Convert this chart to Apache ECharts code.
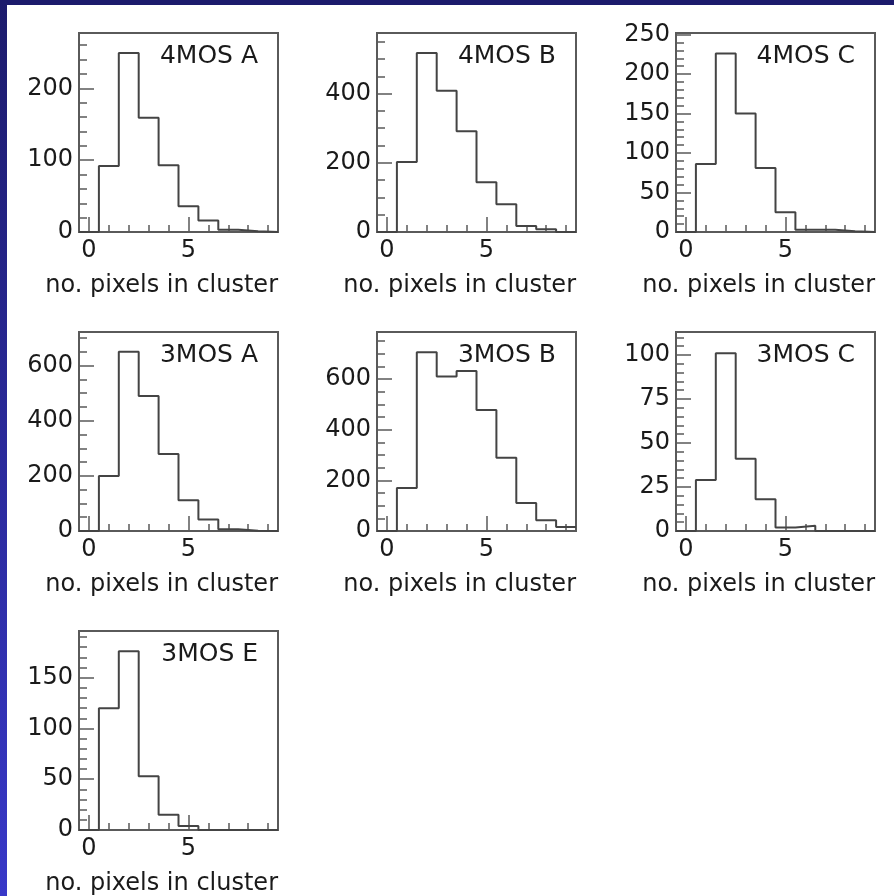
<!DOCTYPE html>
<html><head><meta charset="utf-8">
<script src="https://cdn.jsdelivr.net/npm/echarts@6/dist/echarts.min.js"></script>
<style>html,body{margin:0;padding:0;background:#fff;}#c{width:894px;height:896px;}</style>
</head><body><div id="c"></div><script>
// ---- data ----
const binCenters = [0, 1, 2, 3, 4, 5, 6, 7, 8, 9];
const binWidth = 1;
const panelNames = ['4MOS A', '4MOS B', '4MOS C', '3MOS A', '3MOS B', '3MOS C', '3MOS E'];
const counts4MOSA = [0, 92, 249, 159, 93, 36, 16, 3, 1, 0];
const counts4MOSB = [0, 202, 517, 408, 291, 144, 80, 17, 8, 0];
const counts4MOSC = [0, 86, 226, 150, 81, 25, 3, 3, 1, 0];
const counts3MOSA = [0, 200, 650, 490, 279, 112, 42, 6, 1, 0];
const counts3MOSB = [0, 170, 706, 610, 632, 478, 289, 111, 42, 16];
const counts3MOSC = [0, 29, 101, 41, 18, 2, 3, 0, 0, 0];
const counts3MOSE = [0, 120, 176, 53, 15, 4, 0, 0, 0, 0];
const yMaxes = [277, 575, 252, 722, 786, 113, 196];
const yMajorTicks = [
  [0, 100, 200],
  [0, 200, 400],
  [0, 50, 100, 150, 200, 250],
  [0, 200, 400, 600],
  [0, 200, 400, 600],
  [0, 25, 50, 75, 100],
  [0, 50, 100, 150]
];
const yMinorSteps = [20, 50, 10, 50, 50, 5, 10];
const xRange = [-0.5, 9.5];
const xMajorTicks = [0, 5];
const xMinorTicks = [1, 2, 3, 4, 6, 7, 8, 9];
const xTitle = 'no. pixels in cluster';

const allCounts = [counts4MOSA, counts4MOSB, counts4MOSC, counts3MOSA, counts3MOSB, counts3MOSC, counts3MOSE];

// ---- layout ----
const colLeft = [79, 377, 676];
const rowTop = [33, 332, 631];
const W = 199, H = 199;
const FONT = 'DejaVu Sans';
const TXT = '#1a1a1a';
const FRAME = '#5a5a5a';
const HIST = '#444444';

const grids = [], xAxes = [], yAxes = [], series = [], titles = [];
allCounts.forEach(function (counts, p) {
  const left = colLeft[p % 3], top = rowTop[Math.floor(p / 3)];
  grids.push({left: left, top: top, width: W, height: H, show: true,
    borderColor: FRAME, borderWidth: 2, backgroundColor: 'transparent', containLabel: false, outerBoundsMode: 'none'});
  // major x axis
  xAxes.push({type: 'value', gridIndex: p, min: xRange[0], max: xRange[1], position: 'bottom',
    axisLine: {show: false, onZero: false}, splitLine: {show: false},
    axisTick: {show: true, inside: true, length: 15, customValues: xMajorTicks, lineStyle: {color: FRAME, width: 1.5}},
    axisLabel: {show: true, customValues: xMajorTicks, margin: 7, fontFamily: FONT, fontSize: 24, color: TXT},
    name: xTitle, nameLocation: 'end', nameGap: 0,
    nameTextStyle: {fontFamily: FONT, fontSize: 24, color: TXT, align: 'right', verticalAlign: 'top', padding: [42, 0, 0, 0]}
  });
  // minor x axis
  xAxes.push({type: 'value', gridIndex: p, min: xRange[0], max: xRange[1], position: 'bottom',
    axisLine: {show: false, onZero: false}, splitLine: {show: false}, axisLabel: {show: false},
    axisTick: {show: true, inside: true, length: 7, customValues: xMinorTicks, lineStyle: {color: FRAME, width: 1.5}}
  });
  const ymax = yMaxes[p];
  const minor = [];
  for (let v = 0; v < ymax; v += yMinorSteps[p]) {
    if (yMajorTicks[p].indexOf(v) < 0) minor.push(v);
  }
  yAxes.push({type: 'value', gridIndex: p, min: 0, max: ymax, position: 'left',
    axisLine: {show: false, onZero: false}, splitLine: {show: false},
    axisTick: {show: true, inside: true, length: 15, customValues: yMajorTicks[p], lineStyle: {color: FRAME, width: 1.5}},
    axisLabel: {show: true, customValues: yMajorTicks[p], margin: 6, fontFamily: FONT, fontSize: 24, color: TXT}
  });
  yAxes.push({type: 'value', gridIndex: p, min: 0, max: ymax, position: 'left',
    axisLine: {show: false, onZero: false}, splitLine: {show: false}, axisLabel: {show: false},
    axisTick: {show: true, inside: true, length: 8, customValues: minor, lineStyle: {color: FRAME, width: 1.5}}
  });
  const pts = [];
  binCenters.forEach(function (c, i) {
    pts.push([c - binWidth / 2, counts[i]]);
    pts.push([c + binWidth / 2, counts[i]]);
  });
  series.push({type: 'line', xAxisIndex: 2 * p, yAxisIndex: 2 * p, data: pts,
    showSymbol: false, symbol: 'none', animation: false, silent: true,
    lineStyle: {color: HIST, width: 2}, z: 3});
  titles.push({text: panelNames[p], right: 894 - (left + W - 20), top: top + 11, padding: 0,
    textStyle: {fontFamily: FONT, fontSize: 25, fontWeight: 'normal', color: TXT}});
});

const chart = echarts.init(document.getElementById('c'), null, {renderer: 'canvas'});
chart.setOption({
  backgroundColor: '#ffffff',
  animation: false,
  title: titles,
  grid: grids,
  xAxis: xAxes,
  yAxis: yAxes,
  series: series,
  graphic: [
    {type: 'rect', left: 0, top: 0, shape: {width: 894, height: 5}, style: {fill: '#1c1b6c'}, z: 100},
    {type: 'rect', left: 0, top: 0, shape: {width: 7, height: 896},
      style: {fill: new echarts.graphic.LinearGradient(0, 0, 0, 1, [{offset: 0, color: '#1c1b6c'}, {offset: 1, color: '#3838c8'}])}, z: 100}
  ]
});
</script></body></html>
